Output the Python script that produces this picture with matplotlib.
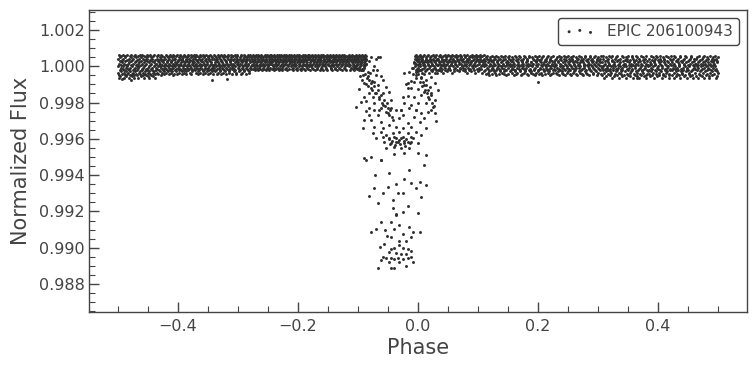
"""
Phase-folded K2 light curve of EPIC 206100943
"""

import numpy as np
import matplotlib
matplotlib.use("Agg")
import matplotlib.pyplot as plt
from matplotlib.ticker import MultipleLocator, FormatStrFormatter


# ═══════════════════════════════════════════════════════════
#  DATA
# ═══════════════════════════════════════════════════════════

LABEL = "EPIC 206100943"

# out-of-transit cadences, one letter each (a=0 ... t=19):
# flux = BAND_BASE + BAND_STEP * level
BAND_BASE = 0.99930
BAND_STEP = 0.00007

band_left_span = (-0.500, -0.086)
band_left = [
    "kfqbmtdhroclsgjepnaikqtfmbhsdorgjlcpetkimfqhbnsdjgrotlekpcmqhfsbidntjgolerk",
    "hpdmsjbqfnkteglrcoihmtdqjfbsnkpgelrimdthoqcjfsnbkgptlemirdhqojsfcnkgtbpelhm",
    "mjqfsikoetlhpngrkmdqjtfslohniprgkemqjtilfsnhopkgrmejqtlshifnokprgmjtdqlsenh",
    "qkgsminteplojhrfkmqtislnhgpeqkojrtmhfsilnqpegkrjotmhslqinfkpetrjomghsqlnkit",
    "nrhlqfmtjpskoiegnlrqhtmfjspkolqigetnmrhsjkpfloqtimgnsjerhkqplotfmisnjgrqkhe",
    "ltjqngsmhrkpeoqitlfnsjmrgkhqpteoljsnimrfktqhgpsloejnrmiqktsghflopnjtqrmkise",
    "sjmpgqlitnkhrfoemqstjlpnkgirhmqteosjlfnpkiqrghtmslojenqkrpitlhmsgqfjnotrkil",
    "oqlsimtknrphjqosltmikrnqhptjolsmrkiqtnohlspjmrqikotnslhqrpjmtoksilnqrhptmjo",
    "rmtiqonskpljtrhoqmsnkitplrjqomshtnkqrilpotsmjhqnrktlosiqpmrntjhoslqkrtmipnq",
    "nspkrtmoiqljshrntopkqmsilrtnjhqposkmrtlqnihsopkrjtmqnlsioqrhtkmposnjrlqtiks",
    "qtmnrhospkljtqmrisnopkhtqlrmsjnoiqptkrmslhnoqtrjpkismnhrtqolpkmsrnjiqtohlps",
    "mrosqknptijlrosmhqtnkprlosjiqmtnrphkosqlrtmjinpoqsrkhtmlqnopjsrtikqmnhoslrp",
    "porsnqtkmlrhojspqnrtkimolsqhrnpjtoqkmsilrnpqhotjskmrnlqoptihsrqkmnjotlrspqm",
]

band_right_span = (-0.006, 0.500)
band_right = [
    "nqksmhtoiprjlgqnsmtkhoripqflsnjmtkoghqrpnsilmtjfoqkrhsnpmgltiqoksjnrhmptlqf",
    "lqpnhsjmtkorgiqlnsfmpktjhoqrlsmgnitpkjqoshrmlnftqpkigsonmjrtlhqkopsgnmiqtjr",
    "mskpoqhjtlnrgismokqftnjplrhqmsignotkrlpjhsqmfnkotriqlgpsmnhjtqrkoilfsnmpqtg",
    "kohmrelqjsfnipgkdmrqhlosjenkpigmrfqlhsdojnkmpreilgqhsnkfojmlrpegiqksnhdmolr",
    "jneqlsgmkohprfjlinqdmkgshrepoljfnqmsikhgrdlpjenoqkmfsihgrlnjpoeqmdkhsrilgfn",
    "gnrlkmqeiphsjdofnlrkqmghespjionlfqkdrmsighnlpejqkorhmflsingdkpqjremolhsfkin",
    "hkpmfqlrjengoisdkhqmplrfjgnkesiqomdhlrpjfkngsqimeolhrkdjpqfnsgmilohkrejqndl",
    "lqgjsmnkfhrpeoidqnlkjmsgrhpfoleqknijdmrshglpnqkfejomrishlnkgqpdjrmfoliqhneks",
    "jdnqhkslfbomigrcpkjehnqslmdgirkfbposjhlcnmqekgirdhsojlpfmbknqgieschjrlodkmp",
    "gmbrkioeqshdlnjfpcmkgsirhbqlneodjkmpsgfrchlnibqjoekdmsghlrpfncikjqdmbshoelg",
    "keqhnlcmsjgpdirfkobnhqmlsegjcrpkindfqhmsolgbkjrdenpqimhcslfgojkrnbdeqhmilsp",
    "nhdjqlmbsfkriocgpejhnqdmlkrsbgioefnpjhclmqkdsrgnbijolhepfkmqcrsgdhnlibkojqm",
    "ficmqkhrnjbleosdgpmkhqicrnfljbsomgdkphernqjlcibsmfhokgqdnrljpmehksbiqgcnorf",
]

# in-transit cadences (and the ragged edges of the band around it)
dip_phase = [
    -0.110, -0.105, -0.102, -0.098, -0.095, -0.092, -0.090, -0.088, -0.086, -0.084,
    -0.082, -0.080, -0.078, -0.076, -0.074, -0.070, -0.068, -0.066,
    -0.010, -0.006, -0.004, -0.001, 0.002, 0.004, 0.006, 0.008, 0.010, 0.012,
    -0.097, -0.093, -0.091, -0.087, -0.085, -0.083, -0.079, -0.077, -0.073, -0.071,
    -0.067, -0.065, -0.062, -0.060, -0.057, -0.055, -0.052, -0.050, -0.046, -0.044,
    -0.008, -0.003, 0.000, 0.003, 0.005, 0.007, 0.009, 0.011, 0.013, 0.015,
    0.017, 0.019, 0.021, 0.024, 0.026, 0.028, 0.030, -0.012, -0.016, -0.020,
    -0.048, -0.044, -0.040, -0.036, -0.032, -0.028, -0.024, -0.020, -0.016, -0.012,
    -0.046, -0.038, -0.030, -0.022, -0.014,
    -0.0632, -0.1033, -0.0949, -0.0893, -0.0838, -0.0754, -0.0698, -0.0615, -0.0810, -0.0726,
    -0.0587, -0.0893, -0.0671, -0.0977, -0.0782, -0.0531, -0.0810, -0.0698, -0.0587, -0.0487,
    -0.0893, -0.0754, -0.0643, -0.0448, -0.0949, -0.0866, -0.0726, -0.0587, -0.1033, -0.0810,
    -0.0643, -0.0503, -0.0364,
    -0.0225, -0.0141, -0.0086, -0.0030, 0.0026, 0.0054, 0.0137, 0.0221, 0.0276, 0.0332,
    -0.0169, -0.0058, 0.0109, 0.0193, 0.0276, -0.0114, -0.0002, 0.0109, 0.0221, 0.0332,
    -0.0253, -0.0169, -0.0058, 0.0054, 0.0165, 0.0276, -0.0225, -0.0114, -0.0002, 0.0137,
    0.0249, -0.0281, -0.0030, 0.0221,
    -0.0866, -0.0726, -0.0615, -0.0531, -0.0448, -0.0281, -0.0141, -0.0030, 0.0054, 0.0165,
    -0.0810, -0.0671, -0.0476, -0.0253, -0.0058, 0.0109, -0.0893, -0.0782, -0.0615, -0.0420,
    -0.0309, -0.0169, 0.0026, -0.0921, -0.0726, -0.0587, -0.0476, -0.0364, -0.0253, -0.0114,
    0.0137, -0.0754, -0.0615, -0.0531, -0.0420, -0.0309, -0.0169, -0.0030, 0.0054, -0.0698,
    -0.0587, -0.0476, -0.0364, -0.0253, -0.0086, -0.0559, -0.0448, -0.0336, -0.0225, -0.0114,
    -0.0002, -0.0531, -0.0392, -0.0281, -0.0141, -0.0893, -0.0782, -0.0615, -0.0392, -0.0225,
    -0.0002, 0.0137,
    -0.0866, -0.0615, 0.0109, -0.0141, -0.0476, -0.0710, -0.0225, -0.0364, -0.0114, 0.0037,
    0.0137, -0.0726, -0.0503, -0.0030, -0.0587, -0.0336, -0.0253, -0.0821, 0.0054, -0.0420,
    -0.0671, -0.0169, -0.0420, -0.0253, -0.0002, -0.0364,
    -0.0364, -0.0615, -0.0448, -0.0309, -0.0153, -0.0698, -0.0542, -0.0392, -0.0782, -0.0075,
    0.0026, -0.0520, -0.0448, -0.0253, -0.0114, -0.0309, -0.0197, -0.0559, -0.0632, -0.0448,
    -0.0392, -0.0320, -0.0253, -0.0169, -0.0114, -0.0487, -0.0364, -0.0281, -0.0197, -0.0587,
    -0.0531, -0.0448, -0.0392, -0.0336, -0.0253, -0.0169, -0.0114, -0.0615, -0.0476, -0.0309,
    -0.0086, -0.0197, -0.0671, -0.0448, -0.0392,
]
dip_flux = [
    1.00030, 0.99995, 1.00040, 0.99990, 1.00020, 0.99980, 1.00040, 0.99960, 1.00010, 0.99945,
    1.00030, 0.99965, 1.00050, 0.99920, 1.00000, 1.00040, 0.99980, 1.00050,
    0.99990, 1.00020, 0.99970, 1.00040, 1.00010, 0.99980, 1.00050, 1.00020, 0.99960, 1.00030,
    0.99945, 0.99925, 0.99950, 0.99905, 0.99935, 0.99890, 0.99910, 0.99870, 0.99890, 0.99850,
    0.99870, 0.99820, 0.99840, 0.99800, 0.99815, 0.99780, 0.99795, 0.99740, 0.99760, 0.99720,
    0.99960, 0.99935, 0.99955, 0.99915, 0.99940, 0.99890, 0.99915, 0.99870, 0.99895, 0.99850,
    0.99870, 0.99820, 0.99840, 0.99800, 0.99780, 0.99740, 0.99700, 0.99920, 0.99880, 0.99900,
    0.99600, 0.99590, 0.99610, 0.99585, 0.99595, 0.99605, 0.99590, 0.99600, 0.99585, 0.99610,
    0.99570, 0.99565, 0.99570, 0.99560, 0.99575,
    1.00049, 0.99989, 0.99980, 1.00002, 0.99970, 0.99980, 0.99952, 0.99947, 0.99925, 0.99915,
    0.99925, 0.99906, 0.99897, 0.99873, 0.99879, 0.99888, 0.99851, 0.99855, 0.99855, 0.99860,
    0.99833, 0.99833, 0.99833, 0.99814, 0.99805, 0.99811, 0.99796, 0.99787, 0.99777, 0.99768,
    0.99759, 0.99768, 0.99759,
    0.99961, 0.99970, 0.99989, 0.99952, 0.99980, 0.99934, 0.99925, 0.99943, 0.99961, 0.99980,
    0.99906, 0.99915, 0.99897, 0.99888, 0.99906, 0.99879, 0.99873, 0.99860, 0.99851, 0.99869,
    0.99833, 0.99836, 0.99833, 0.99842, 0.99833, 0.99814, 0.99796, 0.99787, 0.99796, 0.99796,
    0.99777, 0.99759, 0.99759, 0.99759,
    0.99754, 0.99759, 0.99768, 0.99750, 0.99772, 0.99759, 0.99768, 0.99759, 0.99741, 0.99750,
    0.99732, 0.99732, 0.99732, 0.99732, 0.99722, 0.99713, 0.99704, 0.99704, 0.99695, 0.99704,
    0.99713, 0.99686, 0.99695, 0.99658, 0.99667, 0.99658, 0.99677, 0.99667, 0.99658, 0.99667,
    0.99658, 0.99631, 0.99640, 0.99621, 0.99631, 0.99640, 0.99631, 0.99640, 0.99621, 0.99603,
    0.99612, 0.99603, 0.99603, 0.99612, 0.99603, 0.99585, 0.99576, 0.99585, 0.99576, 0.99585,
    0.99576, 0.99548, 0.99557, 0.99548, 0.99552, 0.99493, 0.99502, 0.99484, 0.99515, 0.99520,
    0.99520, 0.99511,
    0.99484, 0.99484, 0.99456, 0.99429, 0.99414, 0.99401, 0.99377, 0.99351, 0.99355, 0.99362,
    0.99346, 0.99328, 0.99333, 0.99328, 0.99304, 0.99300, 0.99300, 0.99285, 0.99278, 0.99263,
    0.99245, 0.99230, 0.99217, 0.99199, 0.99190, 0.99186,
    0.99181, 0.99144, 0.99144, 0.99126, 0.99116, 0.99104, 0.99098, 0.99104, 0.99089, 0.99089,
    0.99089, 0.99065, 0.99061, 0.99074, 0.99061, 0.99037, 0.99037, 0.99019, 0.99006, 0.98992,
    0.98997, 0.99015, 0.98997, 0.98993, 0.98982, 0.98979, 0.98973, 0.98964, 0.98964, 0.98951,
    0.98946, 0.98946, 0.98938, 0.98942, 0.98936, 0.98942, 0.98951, 0.98933, 0.98924, 0.98924,
    0.98920, 0.98901, 0.98891, 0.98887, 0.98887,
]

# a handful of low points outside the transit
outlier_phase = [-0.478, -0.343, -0.318, 0.200, 0.365]
outlier_flux = [0.99924, 0.99925, 0.99932, 0.99913, 0.99935]


# ═══════════════════════════════════════════════════════════
#  STYLE
# ═══════════════════════════════════════════════════════════

TEXT_COLOR  = "#444444"
POINT_COLOR = "#2e2e2e"

plt.rcParams["font.family"] = ["DejaVu Sans"]
plt.rcParams["axes.edgecolor"] = TEXT_COLOR
plt.rcParams["axes.labelcolor"] = TEXT_COLOR
plt.rcParams["xtick.color"] = TEXT_COLOR
plt.rcParams["ytick.color"] = TEXT_COLOR


def decode(lines, span):
    levels = np.array([ord(c) - ord("a") for c in "".join(lines)])
    flux = BAND_BASE + BAND_STEP * levels
    phase = np.linspace(span[0], span[1], len(levels))
    return phase, flux


pl, fl = decode(band_left, band_left_span)
pr, fr = decode(band_right, band_right_span)
phase = np.concatenate([pl, pr, dip_phase, outlier_phase])
flux  = np.concatenate([fl, fr, dip_flux, outlier_flux])


# ═══════════════════════════════════════════════════════════
#  PLOT
# ═══════════════════════════════════════════════════════════

fig, ax = plt.subplots(figsize=(7.56, 3.68), dpi=100)
fig.subplots_adjust(left=0.1177, right=0.988, top=0.9728, bottom=0.1522)

ax.scatter(phase, flux, s=4.5, c=POINT_COLOR, linewidths=0, label=LABEL)

ax.set_xlim(-0.548, 0.548)
ax.set_ylim(0.98646, 1.0031)

ax.xaxis.set_major_locator(MultipleLocator(0.2))
ax.xaxis.set_minor_locator(MultipleLocator(0.05))
ax.yaxis.set_major_locator(MultipleLocator(0.002))
ax.yaxis.set_minor_locator(MultipleLocator(0.0005))
ax.yaxis.set_major_formatter(FormatStrFormatter("%.3f"))

ax.tick_params(which="both", direction="in", top=False, right=False,
               labelsize=11.5, labelcolor=TEXT_COLOR)
ax.tick_params(which="major", length=7, width=1.0)
ax.tick_params(which="minor", length=4, width=0.8)
ax.tick_params(axis="y", pad=3)
ax.tick_params(axis="x", pad=5)

for sp in ax.spines.values():
    sp.set_linewidth(1.0)

ax.set_xlabel("Phase", fontsize=15, labelpad=3)
ax.set_ylabel("Normalized Flux", fontsize=15, labelpad=6)

leg = ax.legend(loc="upper right", scatterpoints=3, fontsize=11,
                frameon=True, fancybox=True, framealpha=1.0,
                edgecolor=TEXT_COLOR, markerscale=1.0, labelcolor=TEXT_COLOR)
leg.get_frame().set_linewidth(1.0)

fig.savefig("out.png", dpi=100)
